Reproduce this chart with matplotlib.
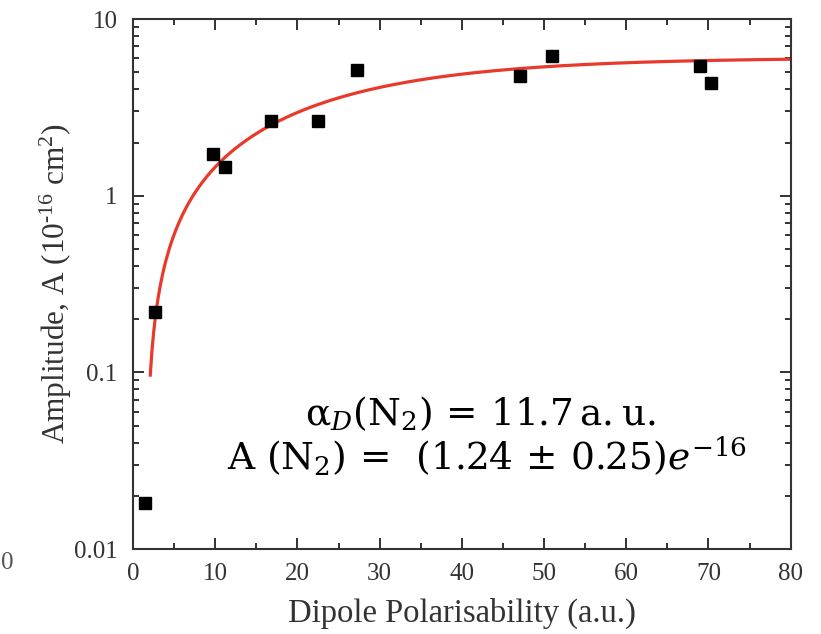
import numpy as np
import matplotlib
matplotlib.use("Agg")
import matplotlib.pyplot as plt
from matplotlib.ticker import MultipleLocator, LogLocator, NullFormatter, FixedLocator, FixedFormatter

# Measured amplitudes versus dipole polarisability
polarisability = [1.46, 2.68, 9.73, 11.19, 16.8, 22.5, 27.25, 47.1, 50.97, 69.0, 70.3]
amplitude = [0.0182, 0.219, 1.72, 1.45, 2.64, 2.64, 5.14, 4.75, 6.17, 5.41, 4.34]

# Saturating fit: A = A_max * tanh((alpha - alpha_0) / alpha_s)
fit_amax = 6.05
fit_alpha0 = 1.55
fit_scale = 34.5
fit_range = (2.1, 80.0)

y_ticks = [0.01, 0.1, 1, 10]
y_tick_labels = ["0.01", "0.1", "1", "10"]

plt.rcParams["font.family"] = ["Liberation Serif", "DejaVu Serif"]
plt.rcParams["mathtext.fontset"] = "custom"
plt.rcParams["mathtext.rm"] = "Liberation Serif"
plt.rcParams["mathtext.it"] = "Liberation Serif:italic"

fig = plt.figure(figsize=(8.21, 6.34), dpi=100)
ax = fig.add_axes([0.162, 0.134, 0.801, 0.836])

xf = np.linspace(fit_range[0], fit_range[1], 400)
yf = fit_amax * np.tanh((xf - fit_alpha0) / fit_scale)
ax.plot(xf, yf, color="#e8392b", lw=2.3, zorder=2)

ax.plot(polarisability, amplitude, ls="none", marker="s", ms=8,
        color="black", zorder=3)

ax.set_yscale("log")
ax.set_xlim(0, 80)
ax.set_ylim(0.01, 10)

ax.xaxis.set_major_locator(MultipleLocator(10))
ax.xaxis.set_minor_locator(MultipleLocator(5))
ax.yaxis.set_major_locator(FixedLocator(y_ticks))
ax.yaxis.set_major_formatter(FixedFormatter(y_tick_labels))
ax.yaxis.set_minor_locator(LogLocator(base=10, subs=np.arange(2, 10)))
ax.yaxis.set_minor_formatter(NullFormatter())

ax.tick_params(which="both", direction="in", top=True, right=True,
               color="#222222", width=1.3)
ax.tick_params(which="major", length=8, labelsize=18, labelcolor="#333333")
ax.tick_params(axis="x", which="major", pad=10)
ax.tick_params(axis="y", which="major", pad=11)
ax.tick_params(which="minor", length=4.5)
for s in ax.spines.values():
    s.set_linewidth(1.5)
    s.set_color("#333333")

ax.set_xlabel("Dipole Polarisability (a.u.)", fontsize=23.5, color="#333333",
              labelpad=9)
ax.set_ylabel("Amplitude, A (10$^{\\text{-}16}$ cm$^{2}$)", fontsize=22.5,
              color="#333333", labelpad=0)

ann_kw = dict(ha="center", va="baseline", fontsize=27, color="black",
              math_fontfamily="dejavuserif", transform=fig.transFigure)
fig.text(480 / 821, 1 - 425 / 634,
         r"$\mathrm{\alpha}_{D}(\mathrm{N}_{2})\,=\,11.7\,\mathrm{a.u.}$",
         **ann_kw)
fig.text(487 / 821, 1 - 470 / 634,
         r"$\mathrm{A}\ (\mathrm{N}_{2})\,=\,\ \mathrm{(1.24}\,\pm\,\mathrm{0.25)}e^{-16}$",
         **ann_kw)

# edge of the neighbouring panel's tick label
fig.text(7 / 821, 1 - 563 / 634, "0", ha="center", va="center",
         fontsize=18, color="#555555")

fig.savefig("out.png", dpi=100)
